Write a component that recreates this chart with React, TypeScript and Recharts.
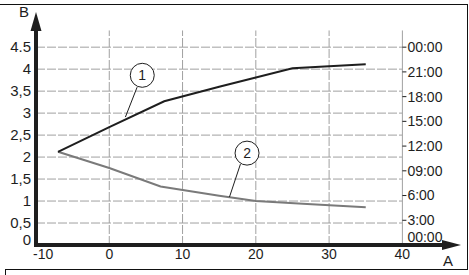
import React from 'react';
import { LineChart, Line, XAxis, YAxis, ReferenceLine, ReferenceDot } from 'recharts';

// curve 1 (black) and curve 2 (grey)
const curve1X = [-7, 0, 7.5, 15, 25, 35];
const curve1Y = [2.12, 2.68, 3.27, 3.6, 4.02, 4.11];
const curve2X = [-7, 0, 7, 15, 20, 27, 35];
const curve2Y = [2.12, 1.75, 1.33, 1.12, 1.0, 0.93, 0.86];

const xTicks = [-10, 0, 10, 20, 30, 40];
const yTicks = [0, 0.5, 1, 1.5, 2, 2.5, 3, 3.5, 4, 4.5];
const yTickLabels = ['0', '0,5', '1', '1,5', '2', '2,5', '3', '3,5', '4', '4.5'];
const gridY = [0.5, 1, 1.5, 2, 2.5, 3, 3.5, 4, 4.5];
const gridX = [0, 10, 20, 30];

// right-hand time scale
const timeHours = [0, 3, 6, 9, 12, 15, 18, 21, 24];
const timeLabels = ['00:00', '3:00', '6:00', '09:00', '12:00', '15:00', '18:00', '21:00', '00:00'];

const FONT = '"Liberation Sans", Arial, sans-serif';
const INK = '#1e1e1e';
const GRID = '#a0a0a0';

const data1 = curve1X.map((x, i) => ({ x, y: curve1Y[i] }));
const data2 = curve2X.map((x, i) => ({ x, y: curve2Y[i] }));
const hourToB = (h: number) => (h / 24) * 4.5;

const XTick = (props: any) => {
  const { x, y, payload } = props;
  const first = payload.value === -10;
  return (
    <text x={first ? x - 3 : x} y={y} dy="0.71em" textAnchor={first ? 'start' : 'middle'}
      fontSize={14} fontFamily={FONT} fill={INK}>
      {payload.value}
    </text>
  );
};

const YTick = (props: any) => {
  const { x, y, payload } = props;
  const idx = yTicks.indexOf(payload.value);
  return (
    <text x={x} y={payload.value === 0 ? y - 5 : y} dy="0.35em" textAnchor="end"
      fontSize={15} fontFamily={FONT} fill={INK}>
      {yTickLabels[idx]}
    </text>
  );
};

const App = () => {
  return (
    <div style={{ position: 'absolute', left: 0, top: 0, width: 469, height: 275 }}>
      <LineChart width={469} height={275} data={data1}
        margin={{ top: 12, right: 8, bottom: 6, left: 8 }}>
        <XAxis type="number" dataKey="x" domain={[-10, 48]} ticks={xTicks}
          axisLine={false} tickLine={false} tickSize={2} tickMargin={2} height={24}
          tick={<XTick />} interval={0} />
        <YAxis type="number" domain={[0, 5.3]} ticks={yTicks} axisLine={false}
          tickLine={false} tickSize={3} tickMargin={2} width={28} tick={<YTick />} interval={0} />

        {gridY.map((v) => (
          <ReferenceLine key={'gy' + v} segment={[{ x: -10, y: v }, { x: 40, y: v }]}
            stroke={GRID} strokeDasharray="9 2" ifOverflow="visible" />
        ))}
        {gridX.map((v) => (
          <ReferenceLine key={'gx' + v} segment={[{ x: v, y: 0 }, { x: v, y: 4.88 }]}
            stroke={GRID} strokeDasharray="9 2" ifOverflow="visible" />
        ))}
        <ReferenceLine segment={[{ x: 40, y: 0 }, { x: 40, y: 4.88 }]} stroke={GRID} ifOverflow="visible" />

        {timeHours.map((h, i) => (
          <ReferenceLine key={'t' + i} segment={[{ x: 40, y: hourToB(h) }, { x: 40.55, y: hourToB(h) }]}
            ifOverflow="visible"
            shape={(p: any) => (
              <g>
                {i > 0 && <line x1={p.x1} y1={p.y1} x2={p.x2} y2={p.y2} stroke={INK} strokeWidth={1} />}
                <text x={p.x2 + 1} y={i === 0 ? p.y1 - 8 : p.y1} dy="0.35em" fontSize={14}
                  fontFamily={FONT} fill={INK}>{timeLabels[i]}</text>
              </g>
            )} />
        ))}

        <Line data={data2} dataKey="y" type="linear" stroke="#7a7a7a" strokeWidth={2}
          dot={false} isAnimationActive={false} />
        <Line data={data1} dataKey="y" type="linear" stroke={INK} strokeWidth={2}
          dot={false} isAnimationActive={false} />

        {/* axes with arrow heads */}
        <ReferenceLine segment={[{ x: -10, y: 0 }, { x: -10, y: 5.3 }]} ifOverflow="visible"
          shape={(p: any) => (
            <g>
              <line x1={p.x1} y1={p.y1 + 2} x2={p.x2} y2={p.y2 + 16} stroke={INK} strokeWidth={4} />
              <polygon points={`${p.x2},${p.y2} ${p.x2 - 5.5},${p.y2 + 19} ${p.x2 + 5.5},${p.y2 + 19}`} fill={INK} />
              <text x={p.x2 - 12} y={p.y2 + 5} textAnchor="middle" fontSize={15} fontFamily={FONT} fill={INK}>B</text>
            </g>
          )} />
        <ReferenceLine segment={[{ x: -10, y: 0 }, { x: 48, y: 0 }]} ifOverflow="visible"
          shape={(p: any) => (
            <g>
              <line x1={p.x1 - 2} y1={p.y1} x2={p.x2 - 16} y2={p.y2} stroke={INK} strokeWidth={4} />
              <polygon points={`${p.x2},${p.y2} ${p.x2 - 19},${p.y2 - 5} ${p.x2 - 19},${p.y2 + 5}`} fill={INK} />
              <text x={p.x2 - 13} y={p.y2 + 21} textAnchor="middle" fontSize={15} fontFamily={FONT} fill={INK}>A</text>
            </g>
          )} />

        {/* callouts */}
        <ReferenceLine segment={[{ x: 3.8, y: 3.59 }, { x: 2.2, y: 2.91 }]} stroke={INK} ifOverflow="visible" />
        <ReferenceLine segment={[{ x: 17.9, y: 1.84 }, { x: 16.4, y: 1.09 }]} stroke={INK} ifOverflow="visible" />
        <ReferenceDot x={4.5} y={3.86} r={12} fill="#fff" stroke={INK} strokeWidth={1} ifOverflow="visible"
          label={{ value: '1', position: 'center', fontSize: 14, fontFamily: FONT, fill: INK }} />
        <ReferenceDot x={18.8} y={2.09} r={12} fill="#fff" stroke={INK} strokeWidth={1} ifOverflow="visible"
          label={{ value: '2', position: 'center', fontSize: 14, fontFamily: FONT, fill: INK }} />
      </LineChart>
      <div style={{ position: 'absolute', left: 0, top: 4, width: 468, height: 266, boxSizing: 'border-box',
        borderTop: '1.5px solid #111', borderRight: '1.5px solid #111', pointerEvents: 'none' }} />
      <div style={{ position: 'absolute', left: 5, top: 269, width: 463, height: 6, boxSizing: 'border-box',
        borderTop: '1.5px solid #111', borderLeft: '1.5px solid #111', pointerEvents: 'none' }} />
    </div>
  );
};

export default App;
